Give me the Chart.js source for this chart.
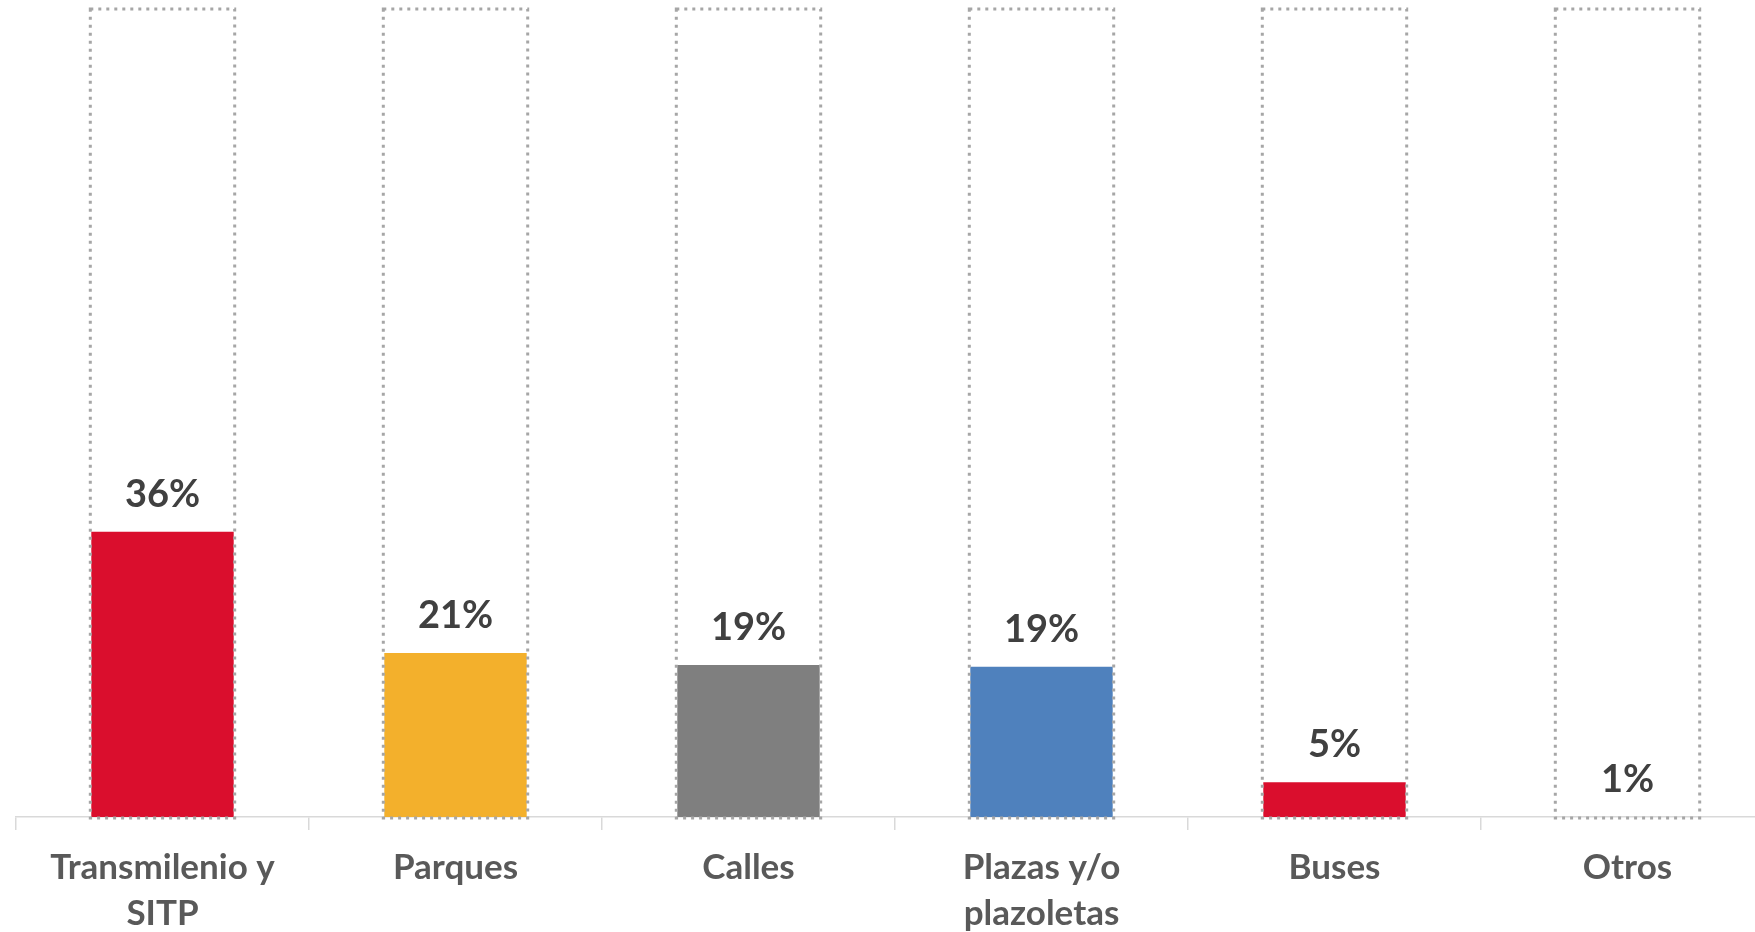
<!DOCTYPE html>
<html><head><meta charset="utf-8">
<script src="https://cdn.jsdelivr.net/npm/chart.js@4/dist/chart.umd.min.js"></script>
<style>html,body{margin:0;padding:0;background:#fff;overflow:hidden;width:1755px;height:932px}canvas{display:block}</style>
</head><body><canvas id="c" width="1790" height="932"></canvas>
<script>
const categories = [['Transmilenio y','SITP'], 'Parques', 'Calles', ['Plazas y/o','plazoletas'], 'Buses', 'Otros'];
const values = [35.3, 20.3, 18.8, 18.6, 4.3, 0];
const valueLabels = ['36%', '21%', '19%', '19%', '5%', '1%'];
const barColors = ['#DA0E2D', '#F3B02C', '#7F7F7F', '#4F81BD', '#DA0E2D', '#FFFFFF'];
const fullScale = 100;

const outlinePlugin = {
  id: 'outline',
  afterDatasetsDraw(chart) {
    const ctx = chart.ctx;
    const meta = chart.getDatasetMeta(0);
    const y = chart.scales.y;
    const top = y.getPixelForValue(fullScale);
    const base = y.getPixelForValue(0);
    ctx.save();
    ctx.setLineDash([3, 5]);
    ctx.lineWidth = 3;
    ctx.strokeStyle = '#A6A6A6';
    meta.data.forEach(el => {
      const half = el.width / 2 + 1;
      ctx.strokeRect(el.x - half, top, 2 * half, base + 1 - top);
    });
    ctx.setLineDash([]);
    ctx.fillStyle = '#404040';
    ctx.font = 'bold 38px Lato';
    ctx.textAlign = 'center';
    ctx.textBaseline = 'alphabetic';
    meta.data.forEach((el, i) => {
      ctx.fillText(valueLabels[i], el.x, el.y - 25);
    });
    ctx.restore();
  }
};

function draw() {
  new Chart(document.getElementById('c'), {
    type: 'bar',
    data: {
      labels: categories,
      datasets: [{
        data: values,
        backgroundColor: barColors,
        borderWidth: 0,
        categoryPercentage: 1,
        barPercentage: 0.486
      }]
    },
    options: {
      responsive: false,
      animation: false,
      devicePixelRatio: 1,
      layout: { padding: { left: 16, right: 16, top: 9, bottom: 0 } },
      plugins: { legend: { display: false }, tooltip: { enabled: false } },
      scales: {
        y: { display: false, min: 0, max: fullScale },
        x: {
          grid: { display: true, drawOnChartArea: false, offset: true, tickLength: 13, color: '#D9D9D9', lineWidth: 1.5 },
          border: { display: true, color: '#D9D9D9', width: 1.5 },
          ticks: {
            font: { family: 'Lato', weight: 'bold', size: 35, lineHeight: 1.31 },
            color: '#595959', padding: 15, maxRotation: 0, autoSkip: false
          },
          afterFit(s) { s.height = 115; }
        }
      }
    },
    plugins: [outlinePlugin]
  });
}
if (document.fonts && document.fonts.load) {
  Promise.all([document.fonts.load('bold 35px Lato'), document.fonts.load('bold 38px Lato')]).then(draw, draw);
} else draw();
</script>
</body></html>
